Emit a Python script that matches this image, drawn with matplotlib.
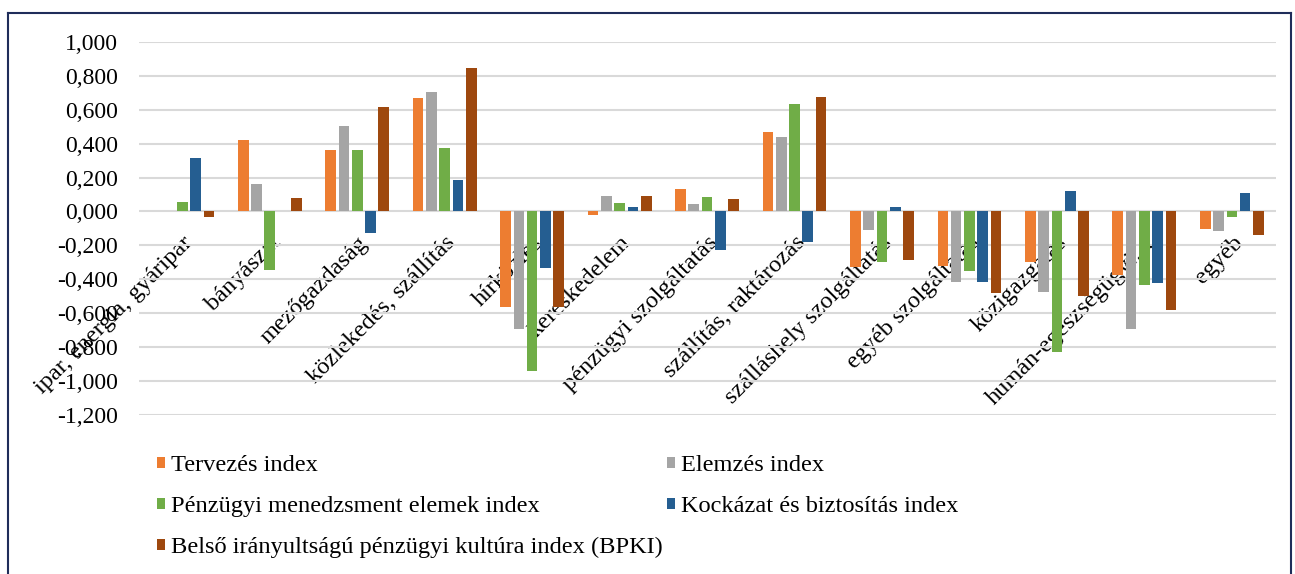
import numpy as np
import matplotlib
matplotlib.use('Agg')
import matplotlib.pyplot as plt
from matplotlib.lines import Line2D
from matplotlib.ticker import FuncFormatter

plt.rcParams['font.family'] = ['Liberation Serif', 'DejaVu Serif']

categories = ['ipar, energia, gyáripar', 'bányászat', 'mezőgazdaság', 'közlekedés, szállítás',
              'hírközlés', 'kereskedelem', 'pénzügyi szolgáltatás', 'szállítás, raktározás',
              'szálláshely szolgáltatás', 'egyéb szolgáltatás', 'közigazgatás',
              'humán-egészségügyi…', 'egyéb']

tervezes = [0.000, 0.422, 0.361, 0.669, -0.564, -0.018, 0.132, 0.469, -0.328, -0.320, -0.298, -0.377, -0.101]
elemzes = [0.000, 0.161, 0.503, 0.706, -0.692, 0.092, 0.045, 0.441, -0.112, -0.416, -0.477, -0.692, -0.117]
penzugyi = [0.055, -0.343, 0.363, 0.376, -0.941, 0.049, 0.083, 0.635, -0.296, -0.351, -0.831, -0.432, -0.032]
kockazat = [0.313, 0.000, -0.128, 0.185, -0.335, 0.027, -0.225, -0.178, 0.024, -0.416, 0.118, -0.424, 0.108]
bpki = [-0.034, 0.079, 0.617, 0.848, -0.564, 0.090, 0.071, 0.675, -0.288, -0.479, -0.501, -0.578, -0.138]

series = [tervezes, elemzes, penzugyi, kockazat, bpki]
labels = ['Tervezés index', 'Elemzés index', 'Pénzügyi menedzsment elemek index',
          'Kockázat és biztosítás index', 'Belső irányultságú pénzügyi kultúra index (BPKI)']
colors = ['#ED7D31', '#A5A5A5', '#70AD47', '#255E91', '#9E480E']

fig = plt.figure(figsize=(12.95, 5.74), dpi=100)
ax = fig.add_axes([0.107, 0.277, 0.878, 0.65])

x = np.arange(len(categories))
pitch = 0.152
width = 0.122
handles = []
for i, (vals, lab, col) in enumerate(zip(series, labels, colors)):
    b = ax.bar(x + (i - 2) * pitch, vals, width, color=col, label=lab, zorder=3)
    handles.append(b)

ax.set_xlim(-0.5, len(categories) - 0.5)
ax.set_ylim(-1.2, 1.0)
ax.set_yticks(np.arange(-1.2, 1.01, 0.2))
ax.yaxis.set_major_formatter(FuncFormatter(lambda v, p: f'{v:.3f}'.replace('.', ',').replace('-0,000', '0,000')))
ax.grid(axis='y', color='#D9D9D9', linewidth=1.5, zorder=0)
for s in ax.spines.values():
    s.set_visible(False)
ax.tick_params(axis='y', length=0, pad=15, labelsize=17)
ax.tick_params(axis='x', length=0)

ax.spines['bottom'].set_position(('data', 0))
ax.set_xticks(x)
ax.set_xticklabels(categories, rotation=45, ha='right', va='top', rotation_mode='anchor', fontsize=17.5)
ax.tick_params(axis='x', pad=15)

order = [0, 2, 4, 1, 3]
leg = fig.legend([handles[k] for k in order], [labels[k] for k in order], ncol=2,
                 loc='upper left', bbox_to_anchor=(0.121, 0.207), frameon=False, fontsize=17.6,
                 handlelength=0.34, handleheight=0.34, handletextpad=0.26,
                 columnspacing=0.15, labelspacing=0.82, borderaxespad=0, borderpad=0)

border = '#1F2D5A'
fig.add_artist(Line2D([8 / 1295, 8 / 1295], [0, 1 - 13 / 574], color=border, linewidth=1.5))
fig.add_artist(Line2D([8 / 1295, 1291 / 1295], [1 - 13 / 574, 1 - 13 / 574], color=border, linewidth=1.5))
fig.add_artist(Line2D([1291 / 1295, 1291 / 1295], [0, 1 - 13 / 574], color=border, linewidth=1.5))

fig.savefig('out.png', dpi=100)
